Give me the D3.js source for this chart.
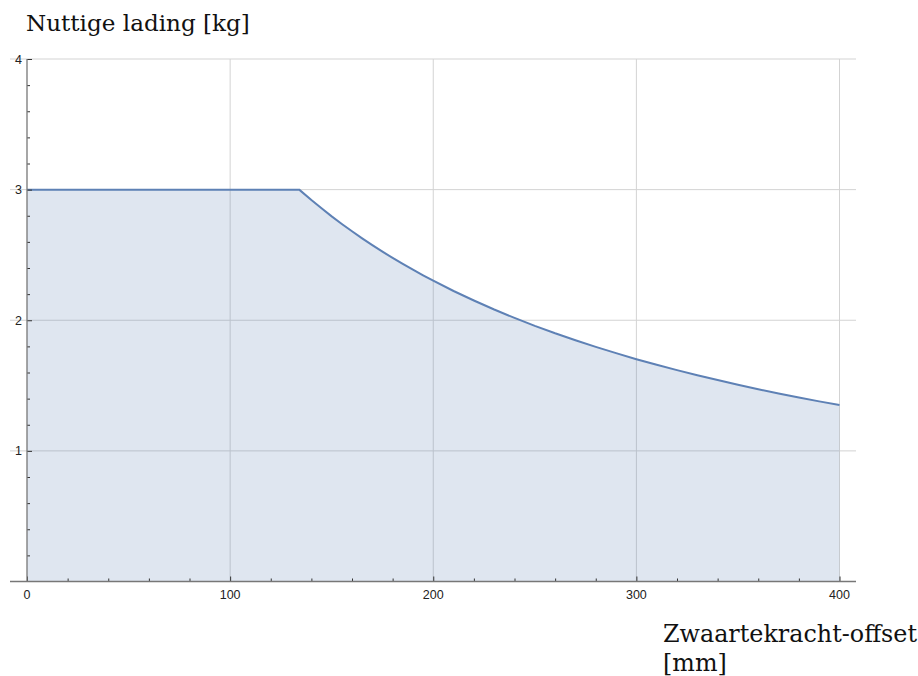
<!DOCTYPE html>
<html>
<head>
<meta charset="utf-8">
<script src="https://cdn.jsdelivr.net/npm/d3@7"></script>
<style>
  body { margin: 0; background: #fff; }
  svg { display: block; }
</style>
</head>
<body>
<svg id="chart" width="918" height="676"></svg>
<script>
// payload curve
const offsetMm = [0, 50, 100, 134, 140, 145, 150, 155, 160, 165, 170, 175, 180, 185, 190, 195, 200,
  210, 220, 230, 240, 250, 260, 270, 280, 290, 300, 310, 320, 330, 340, 350, 360, 370, 380, 390, 400];
const payloadKg = [3, 3, 3, 3, 2.920, 2.857, 2.795, 2.737, 2.681, 2.627, 2.575, 2.525, 2.477, 2.431, 2.387, 2.344, 2.303,
  2.224, 2.151, 2.082, 2.018, 1.957, 1.900, 1.847, 1.796, 1.748, 1.702, 1.659, 1.618, 1.579, 1.542, 1.506, 1.472, 1.440, 1.409, 1.379, 1.351];

const xTicks = [0, 100, 200, 300, 400];
const yTicks = [1, 2, 3, 4];
const xMinor = d3.range(0, 401, 20);
const yMinor = d3.range(0, 4.01, 0.2);

const data = offsetMm.map((x, i) => ({ x: x, y: payloadKg[i] }));

const svg = d3.select("#chart");

const x = d3.scaleLinear().domain([0, 400]).range([27, 839.5]);
const y = d3.scaleLinear().domain([0, 4]).range([581.5, 59]);

const lineColor = "#5e81b5";

// grid
svg.append("g")
  .selectAll("line")
  .data(xTicks.slice(1))
  .join("line")
  .attr("x1", d => x(d)).attr("x2", d => x(d))
  .attr("y1", y(4)).attr("y2", y(0))
  .attr("stroke", "#d3d3d3").attr("stroke-width", 1);

svg.append("g")
  .selectAll("line")
  .data(yTicks)
  .join("line")
  .attr("x1", 10).attr("x2", 856)
  .attr("y1", d => y(d)).attr("y2", d => y(d))
  .attr("stroke", "#d3d3d3").attr("stroke-width", 1);

// filled area + line
const area = d3.area()
  .x(d => x(d.x))
  .y0(y(0))
  .y1(d => y(d.y));

const line = d3.line()
  .x(d => x(d.x))
  .y(d => y(d.y));

svg.append("path")
  .datum(data)
  .attr("d", area)
  .attr("fill", lineColor)
  .attr("fill-opacity", 0.2);

svg.append("path")
  .datum(data)
  .attr("d", line)
  .attr("fill", "none")
  .attr("stroke", lineColor)
  .attr("stroke-width", 2)
  .attr("stroke-linejoin", "round");

// axes
const xAxis = g => g
  .attr("transform", `translate(0,${y(0)})`)
  .call(d3.axisTop(x).tickValues(xTicks).tickSize(5).tickFormat(""))
  .call(g => g.select(".domain").remove());

const xAxisMinor = g => g
  .attr("transform", `translate(0,${y(0)})`)
  .call(d3.axisTop(x).tickValues(xMinor.filter(d => d % 100)).tickSize(3).tickFormat(""))
  .call(g => g.select(".domain").remove());

const yAxis = g => g
  .attr("transform", `translate(${x(0)},0)`)
  .call(d3.axisRight(y).tickValues(yTicks).tickSize(5).tickFormat(""))
  .call(g => g.select(".domain").remove());

const yAxisMinor = g => g
  .attr("transform", `translate(${x(0)},0)`)
  .call(d3.axisRight(y).tickValues(yMinor.filter(d => Math.abs(d - Math.round(d)) > 0.01)).tickSize(3).tickFormat(""))
  .call(g => g.select(".domain").remove());

[xAxis, xAxisMinor, yAxis, yAxisMinor].forEach(a => {
  svg.append("g").call(a).selectAll("line").attr("stroke", "#333").attr("stroke-width", 1);
});

// axis lines
svg.append("line")
  .attr("x1", 10).attr("x2", 856)
  .attr("y1", y(0)).attr("y2", y(0))
  .attr("stroke", "#777").attr("stroke-width", 1.3);

svg.append("line")
  .attr("x1", x(0)).attr("x2", x(0))
  .attr("y1", y(4)).attr("y2", y(0))
  .attr("stroke", "#777").attr("stroke-width", 1.3);

// tick labels
svg.append("g")
  .selectAll("text")
  .data(xTicks)
  .join("text")
  .attr("x", d => x(d))
  .attr("y", y(0) + 17)
  .attr("text-anchor", "middle")
  .attr("font-family", "Liberation Sans, Arial, sans-serif")
  .attr("font-size", 12.5)
  .attr("fill", "#222")
  .text(d => d);

svg.append("g")
  .selectAll("text")
  .data(yTicks)
  .join("text")
  .attr("x", x(0) - 5)
  .attr("y", d => y(d) + 4.5)
  .attr("text-anchor", "end")
  .attr("font-family", "Liberation Sans, Arial, sans-serif")
  .attr("font-size", 12.5)
  .attr("fill", "#222")
  .text(d => d);

// axis titles, sized to the widths seen in the picture
const titleFont = "DejaVu Serif, serif";

function title(txt, tx, ty, targetWidth) {
  const t = svg.append("text")
    .attr("x", tx).attr("y", ty)
    .attr("font-family", titleFont)
    .attr("font-size", 22)
    .attr("fill", "#111")
    .text(txt);
  const w = t.node().getComputedTextLength();
  t.attr("font-size", 22 * targetWidth / w);
  return t;
}

const t1 = title("Nuttige lading [kg]", 26, 31, 224);
const t2 = title("Zwaartekracht-offset", 663, 642, 254);
svg.append("text")
  .attr("x", 663).attr("y", 671)
  .attr("font-family", titleFont)
  .attr("font-size", t2.attr("font-size"))
  .attr("fill", "#111")
  .text("[mm]");
</script>
</body>
</html>
